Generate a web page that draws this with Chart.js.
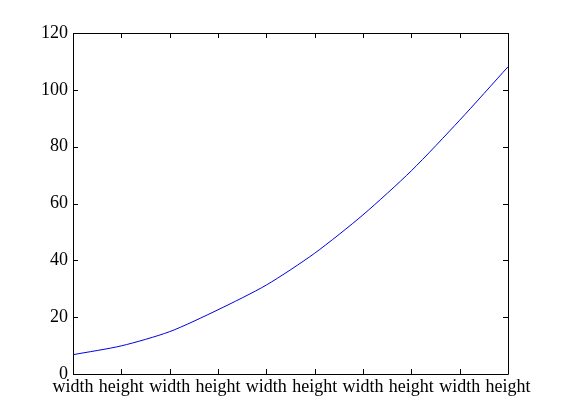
<!DOCTYPE html>
<html>
<head>
<meta charset="utf-8">
<script src="https://cdn.jsdelivr.net/npm/chart.js@4/dist/chart.umd.min.js"></script>
<style>
  html, body { margin: 0; padding: 0; background: #fff; }
  #wrap { width: 561px; height: 420px; }
</style>
</head>
<body>
<div id="wrap"><canvas id="plot" width="561" height="420"></canvas></div>
<script>
// tick labels along x
const labels = ["width", "height", "width", "height", "width", "height", "width", "height", "width", "height"];
// curve values
const values = [6.8, 9.9, 14.9, 22.6, 31.3, 42.5, 56, 71.5, 89.3, 108.1];
const yTicks = [0, 20, 40, 60, 80, 100, 120];

const font = { family: "'Liberation Serif', 'DejaVu Serif', serif", size: 18 };

// matlab style box with ticks pointing inward
const boxPlugin = {
    id: 'box',
    afterDraw(chart) {
        const ctx = chart.ctx;
        const a = chart.chartArea;
        const xs = chart.scales.x, ys = chart.scales.y;
        const len = 5;
        ctx.save();
        ctx.strokeStyle = '#000';
        ctx.lineWidth = 1;
        ctx.beginPath();
        ctx.rect(a.left + 0.5, a.top + 0.5, a.right - a.left, a.bottom - a.top);
        labels.forEach((l, i) => {
            const x = Math.round(xs.getPixelForValue(i)) + 0.5;
            ctx.moveTo(x, a.bottom); ctx.lineTo(x, a.bottom - len);
            ctx.moveTo(x, a.top); ctx.lineTo(x, a.top + len);
        });
        yTicks.forEach(v => {
            const y = Math.round(ys.getPixelForValue(v)) + 0.5;
            ctx.moveTo(a.left, y); ctx.lineTo(a.left + len, y);
            ctx.moveTo(a.right, y); ctx.lineTo(a.right - len, y);
        });
        ctx.stroke();
        ctx.restore();
    }
};

new Chart(document.getElementById('plot'), {
    type: 'line',
    data: {
        labels: labels,
        datasets: [{
            data: values,
            borderColor: '#0000e0',
            borderWidth: 1,
            pointRadius: 0,
            fill: false,
            tension: 0.25
        }]
    },
    options: {
        responsive: false,
        animation: false,
        layout: { padding: { top: 33, right: 53, left: 0, bottom: 0 } },
        plugins: { legend: { display: false }, tooltip: { enabled: false } },
        scales: {
            x: {
                offset: false,
                grid: { display: false, drawTicks: false },
                border: { display: false },
                ticks: { color: '#000', font: font, padding: 2, maxRotation: 0, autoSkip: false },
                afterFit: s => { s.height = 46; }
            },
            y: {
                min: 0, max: 120,
                grid: { display: false, drawTicks: false },
                border: { display: false },
                ticks: { color: '#000', font: font, stepSize: 20, padding: 5 },
                afterFit: s => { s.width = 73; }
            }
        }
    },
    plugins: [boxPlugin]
});
</script>
</body>
</html>
